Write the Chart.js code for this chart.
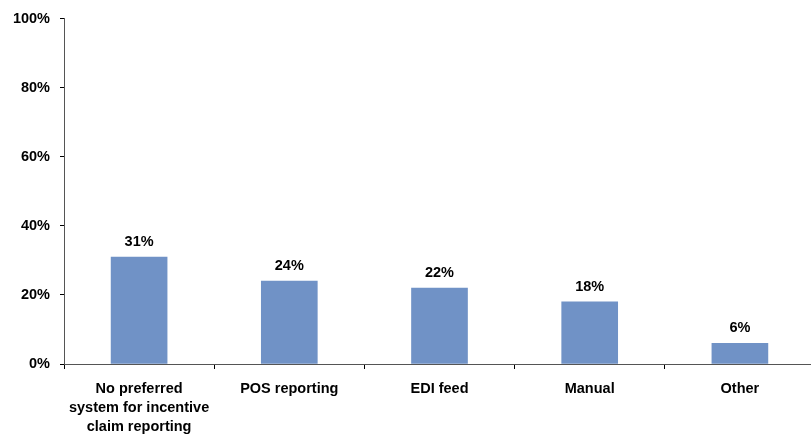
<!DOCTYPE html>
<html>
<head>
<meta charset="utf-8">
<script src="https://cdn.jsdelivr.net/npm/chart.js@4/dist/chart.umd.min.js"></script>
<style>
  html, body { margin: 0; padding: 0; background: #fff; overflow: hidden; }
  #wrap { width: 811px; height: 436px; overflow: hidden; }
  canvas { display: block; }
</style>
</head>
<body>
<div id="wrap"><canvas id="c" width="815" height="436"></canvas></div>
<script>
// Preferred system for incentive claim reporting (share of respondents)
const categories = [
  ["No preferred", "system for incentive", "claim reporting"],
  "POS reporting",
  "EDI feed",
  "Manual",
  "Other"
];
const shares = [31, 24, 22, 18, 6];
const yTicks = [0, 20, 40, 60, 80, 100];

const FONT = "'Liberation Sans', Arial, sans-serif";

// Writes the percentage above each bar
const valueLabels = {
  id: 'valueLabels',
  afterDatasetsDraw(chart) {
    const ctx = chart.ctx;
    const meta = chart.getDatasetMeta(0);
    ctx.save();
    ctx.font = "bold 14.5px " + FONT;
    ctx.fillStyle = '#000';
    ctx.textAlign = 'center';
    ctx.textBaseline = 'middle';
    meta.data.forEach((bar, i) => {
      ctx.fillText(shares[i] + '%', bar.x, bar.y - 15);
    });
    ctx.restore();
  }
};

new Chart(document.getElementById('c'), {
  type: 'bar',
  data: {
    labels: categories,
    datasets: [{
      data: shares,
      backgroundColor: '#7092C6',
      borderWidth: 0,
      barThickness: 56
    }]
  },
  options: {
    responsive: false,
    animation: false,
    layout: { padding: { top: 17, right: 0, left: 0, bottom: 0 } },
    plugins: { legend: { display: false }, tooltip: { enabled: false } },
    scales: {
      x: {
        offset: true,
        border: { color: '#555', width: 1 },
        grid: { offset: true, drawOnChartArea: false, drawTicks: true, tickLength: 5, color: '#000' },
        ticks: {
          color: '#000',
          font: { family: FONT, size: 14.5, weight: 'bold', lineHeight: 1.33 },
          padding: 10,
          maxRotation: 0,
          autoSkip: false
        },
        afterFit(scale) { scale.height = 72; }
      },
      y: {
        min: 0,
        max: 100,
        afterBuildTicks(scale) { scale.ticks = yTicks.map(v => ({ value: v })); },
        border: { color: '#555', width: 1 },
        grid: { drawOnChartArea: false, drawTicks: true, tickLength: 4, color: '#000' },
        ticks: {
          color: '#000',
          font: { family: FONT, size: 14.5, weight: 'bold' },
          padding: 10,
          callback: v => v + '%'
        },
        afterFit(scale) { scale.width = 64; }
      }
    }
  },
  plugins: [valueLabels]
});
</script>
</body>
</html>
